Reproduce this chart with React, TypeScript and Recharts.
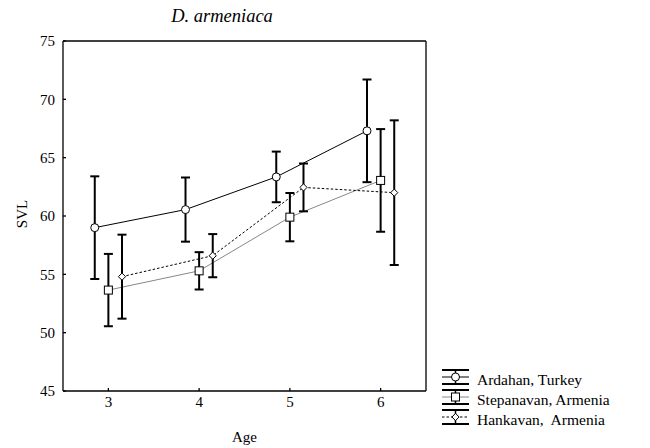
import { ComposedChart, Line, XAxis, YAxis, ErrorBar } from "recharts"

// age classes and the three populations
const ages = [3, 4, 5, 6]
const seriesNames = ["Ardahan, Turkey", "Stepanavan, Armenia", "Hankavan,  Armenia"]

// mean SVL and half-length of the bars
const ardahanMean = [59.0, 60.55, 63.35, 67.3]
const ardahanErr = [4.4, 2.75, 2.17, 4.4]

const stepanavanMean = [53.65, 55.3, 59.9, 63.05]
const stepanavanErr = [3.1, 1.6, 2.07, 4.4]

const hankavanMean = [54.8, 56.6, 62.45, 62.0]
const hankavanErr = [3.6, 1.85, 2.05, 6.2]

// small horizontal shift so the bars do not overlap
const offsets = [-0.15, 0, 0.15]

const yTicks = [45, 50, 55, 60, 65, 70, 75]

const font = "Liberation Serif, DejaVu Serif, serif"

const build = (mean: number[], err: number[], shift: number) =>
  ages.map((a, i) => ({ age: a + shift, svl: mean[i], err: err[i] }))

const ardahanData = build(ardahanMean, ardahanErr, offsets[0])
const stepanavanData = build(stepanavanMean, stepanavanErr, offsets[1])
const hankavanData = build(hankavanMean, hankavanErr, offsets[2])

const circleDot = (p: any) => (
  <circle key={p.index} cx={p.cx} cy={p.cy} r={4} fill="#fff" stroke="#000" strokeWidth={1} />
)

const squareDot = (p: any) => (
  <rect key={p.index} x={p.cx - 4} y={p.cy - 4} width={8} height={8} fill="#fff" stroke="#000" strokeWidth={1} />
)

const diamondDot = (p: any) => (
  <polygon
    key={p.index}
    points={`${p.cx},${p.cy - 3.6} ${p.cx + 3.6},${p.cy} ${p.cx},${p.cy + 3.6} ${p.cx - 3.6},${p.cy}`}
    fill="#fff"
    stroke="#000"
    strokeWidth={1}
  />
)

const lineStyles = [
  { stroke: "#000", dash: undefined },
  { stroke: "#888", dash: undefined },
  { stroke: "#000", dash: "2.5 2" },
]

const markers = [
  (cx: number, cy: number) => <circle cx={cx} cy={cy} r={4} fill="#fff" stroke="#000" />,
  (cx: number, cy: number) => <rect x={cx - 4} y={cy - 4} width={8} height={8} fill="#fff" stroke="#000" />,
  (cx: number, cy: number) => (
    <polygon
      points={`${cx},${cy - 3.6} ${cx + 3.6},${cy} ${cx},${cy + 3.6} ${cx - 3.6},${cy}`}
      fill="#fff"
      stroke="#000"
    />
  ),
]

function Overlay() {
  return (
    <svg width={650} height={448} style={{ position: "absolute", left: 0, top: 0, pointerEvents: "none", fontFamily: font }}>
      <text x={222} y={21.5} textAnchor="middle" style={{ fontFamily: font, fontStyle: "italic", fontSize: 18.5 }}>
        D. armeniaca
      </text>

      <text
        x={21.5}
        y={214}
        transform="rotate(-90 21.5 214)"
        textAnchor="middle"
        dominantBaseline="central"
        style={{ fontFamily: font, fontSize: 15 }}
      >
        SVL
      </text>

      {seriesNames.map((name, i) => {
        const cy = 377 + i * 20
        return (
          <g key={name}>
            <line x1={442} x2={469} y1={cy - 7} y2={cy - 7} stroke="#000" strokeWidth={2} />
            <line x1={442} x2={469} y1={cy + 7} y2={cy + 7} stroke="#000" strokeWidth={2} />
            <line x1={455.5} x2={455.5} y1={cy - 7} y2={cy + 7} stroke="#000" strokeWidth={1.5} />
            <line
              x1={442}
              x2={469}
              y1={cy}
              y2={cy}
              stroke={lineStyles[i].stroke}
              strokeDasharray={lineStyles[i].dash}
            />
            {markers[i](455.5, cy)}
            <text x={477} y={cy + 8} style={{ fontFamily: font, fontSize: 15.5, whiteSpace: "pre" }}>
              {name}
            </text>
          </g>
        )
      })}
    </svg>
  )
}

export default function App() {
  const axisStroke = { stroke: "#000", strokeWidth: 1.3 }
  const tickStyle = { fontSize: 15, fill: "#000", style: { fontFamily: font } }

  return (
    <div style={{ position: "absolute", left: 0, top: 0, width: 650, height: 448, background: "#fff", fontFamily: font }}>
      <ComposedChart width={650} height={448} margin={{ top: 40, right: 223, bottom: 0, left: 0 }} style={{ fontFamily: font }}>
        <XAxis
          dataKey="age"
          type="number"
          domain={[2.5, 6.5]}
          ticks={ages}
          allowDataOverflow
          height={57}
          axisLine={axisStroke}
          tickLine={axisStroke}
          tickSize={-3}
          tickMargin={8.5}
          tick={tickStyle}
          label={{ value: "Age", position: "insideBottom", offset: 6, fontSize: 15, fill: "#000", style: { fontFamily: font } }}
        />
        <XAxis
          xAxisId="top"
          orientation="top"
          type="number"
          domain={[2.5, 6.5]}
          ticks={ages}
          height={1}
          axisLine={axisStroke}
          tickLine={axisStroke}
          tickSize={-3}
          tick={false}
        />
        <YAxis
          type="number"
          domain={[45, 75]}
          ticks={yTicks}
          width={63}
          axisLine={axisStroke}
          tickLine={axisStroke}
          tickSize={-3}
          tickMargin={11}
          tick={tickStyle}
        />
        <YAxis
          yAxisId="right"
          orientation="right"
          type="number"
          domain={[45, 75]}
          ticks={yTicks}
          width={1}
          axisLine={axisStroke}
          tickLine={axisStroke}
          tickSize={-3}
          tick={false}
        />

        <Line
          data={ardahanData}
          dataKey="svl"
          name={seriesNames[0]}
          stroke="#000"
          strokeWidth={1}
          dot={circleDot}
          isAnimationActive={false}
        >
          <ErrorBar dataKey="err" direction="y" width={4.5} stroke="#000" strokeWidth={2} />
        </Line>
        <Line
          data={stepanavanData}
          dataKey="svl"
          name={seriesNames[1]}
          stroke="#888"
          strokeWidth={1}
          dot={squareDot}
          isAnimationActive={false}
        >
          <ErrorBar dataKey="err" direction="y" width={4.5} stroke="#000" strokeWidth={2} />
        </Line>
        <Line
          data={hankavanData}
          dataKey="svl"
          name={seriesNames[2]}
          stroke="#000"
          strokeWidth={1}
          strokeDasharray="2.5 2"
          dot={diamondDot}
          isAnimationActive={false}
        >
          <ErrorBar dataKey="err" direction="y" width={4.5} stroke="#000" strokeWidth={2} />
        </Line>
      </ComposedChart>
      <Overlay />
    </div>
  )
}
